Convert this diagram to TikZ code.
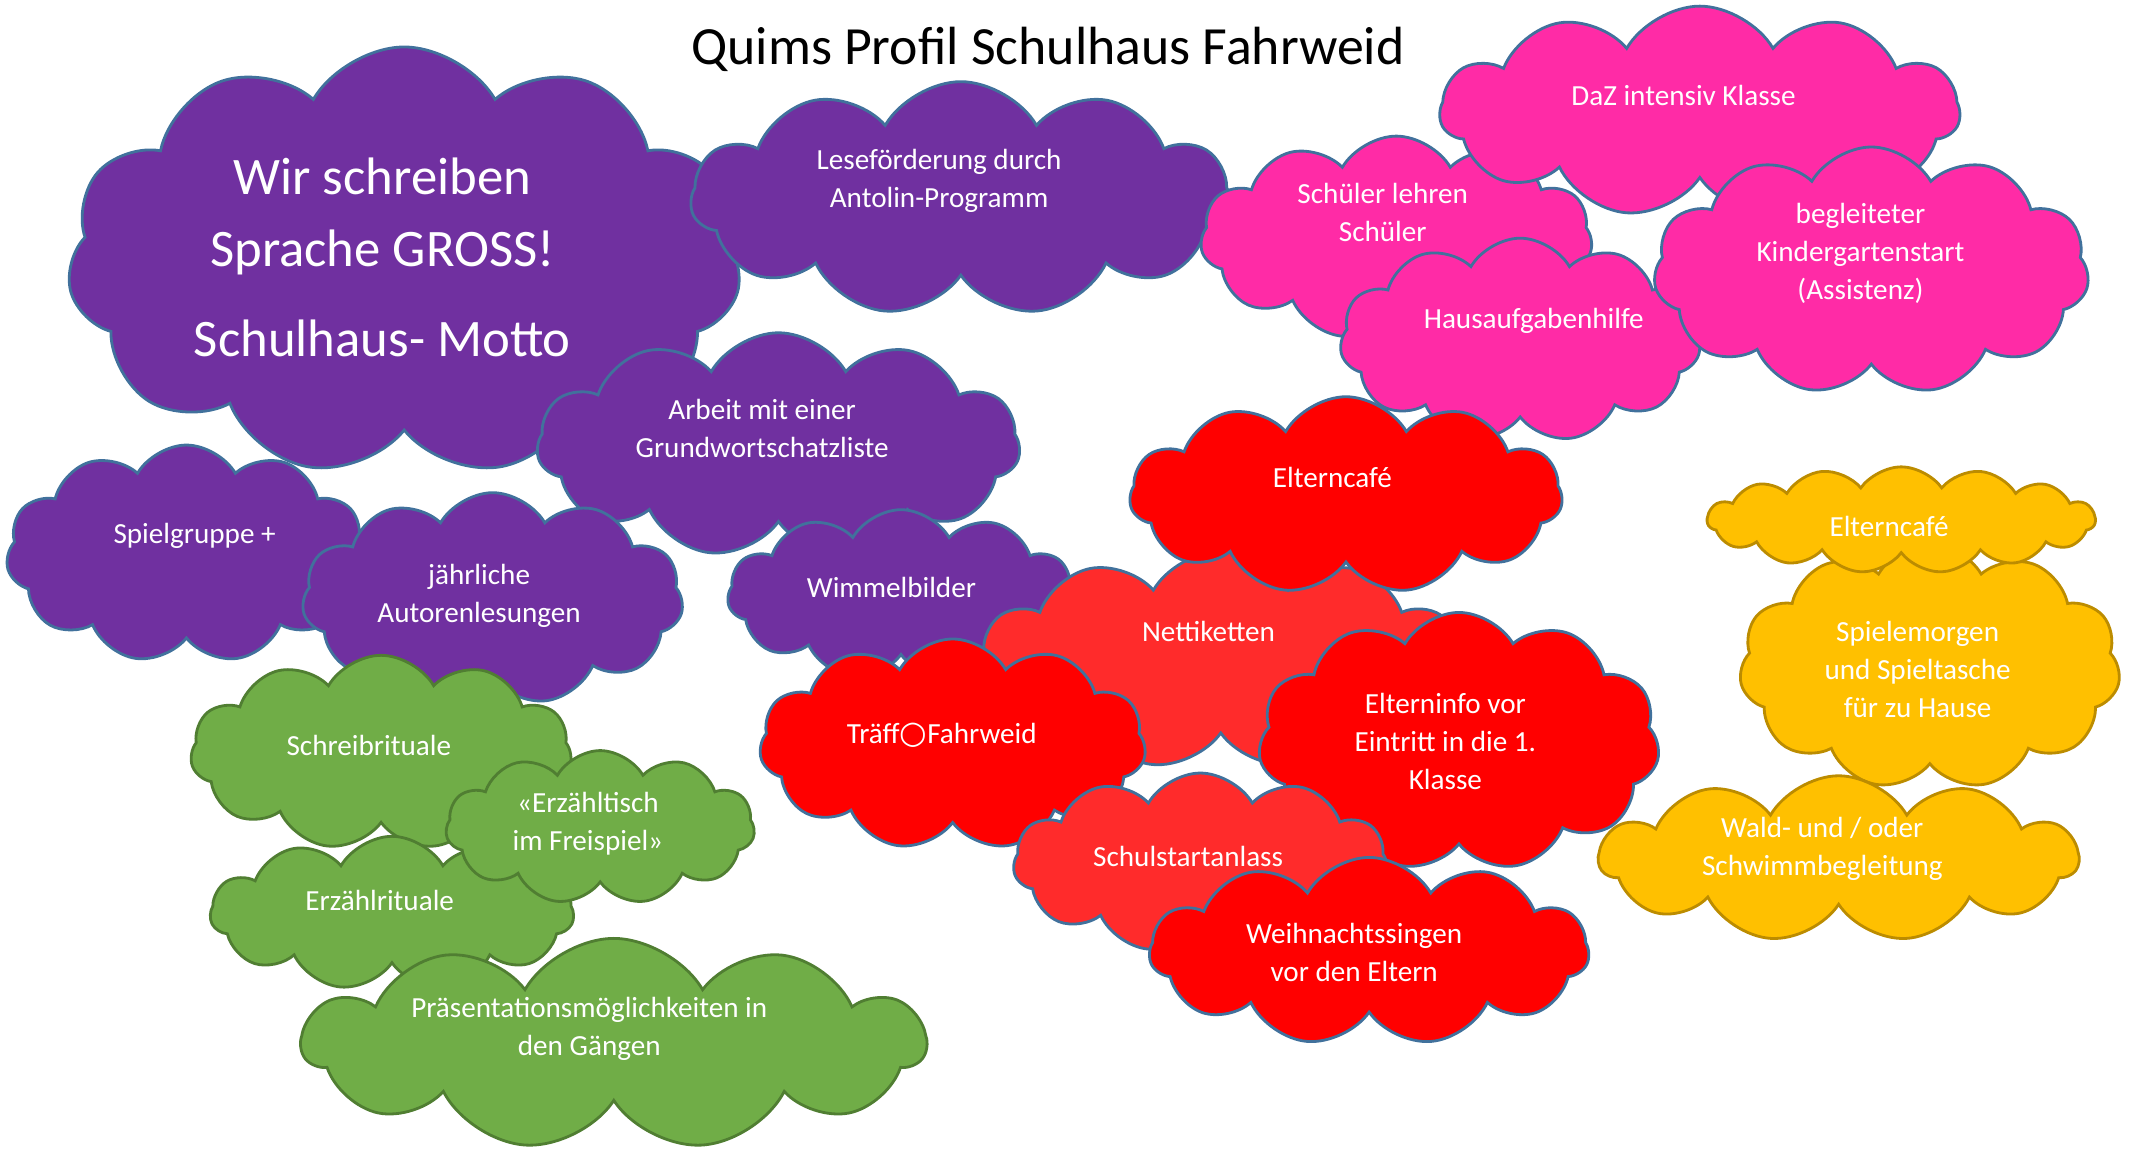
\documentclass[tikz,border=0pt]{standalone}
\usepackage{fontspec}
\setmainfont{Carlito}
\newfontfamily\symfont{DejaVu Sans}
\usetikzlibrary{shapes.symbols}
\definecolor{violett}{HTML}{7030A0}
\definecolor{magenta}{HTML}{FF2BA6}
\definecolor{rot}{HTML}{FF0000}
\definecolor{hellrot}{HTML}{FF2B2B}
\definecolor{gelb}{HTML}{FFC000}
\definecolor{gelbrand}{HTML}{BC8C00}
\definecolor{gruen}{HTML}{70AD47}
\definecolor{gruenrand}{HTML}{507E32}
\definecolor{rand}{HTML}{41719C}
\tikzstyle{cloudbase}=[shape=cloud, cloud puffs=11, cloud puff arc=120, cloud ignores aspect, draw=rand, line width=0.8pt, inner sep=0pt]
\tikzstyle{purple cloud}=[cloudbase, fill=violett]
\tikzstyle{pink cloud}=[cloudbase, fill=magenta]
\tikzstyle{red cloud}=[cloudbase, fill=rot]
\tikzstyle{light red cloud}=[cloudbase, fill=hellrot]
\tikzstyle{yellow cloud}=[cloudbase, fill=gelb, draw=gelbrand]
\tikzstyle{green cloud}=[cloudbase, fill=gruen, draw=gruenrand]
\tikzstyle{cloudtext}=[text=white, align=center, inner sep=0pt, font=\fontsize{8.3}{10.8}\selectfont]
\tikzset{wh/.style 2 args={minimum width=#1*0.1361mm, minimum height=#2*0.1361mm}}

\begin{document}
\begin{tikzpicture}[x=0.1361mm, y=-0.1361mm]
	\useasboundingbox (0,0) rectangle (1568,848);
	\node [font=\fontsize{15.3}{18}\selectfont] (title) at (770,36) {Quims Profil Schulhaus Fahrweid};
	% violett
	\node [style=purple cloud, wh={495}{315}] (0) at (297,192) {};
	\node [style=purple cloud, wh={397}{172}] (1) at (706,146) {};
	\node [style=purple cloud, wh={355}{165}] (2) at (572,327) {};
	\node [style=purple cloud, wh={265}{160}] (3) at (137,407) {};
	\node [style=purple cloud, wh={280}{156}] (4) at (362,440) {};
	\node [style=purple cloud, wh={255}{125}] (5) at (662,437) {};
	\node [style=cloudtext, font=\fontsize{15}{20.5}\selectfont] (t0) at (281,189) {Wir schreiben\\Sprache GROSS!\\[5pt]Schulhaus- Motto};
	\node [style=cloudtext] (t1) at (690,133) {Leseförderung durch\\Antolin-Programm};
	\node [style=cloudtext] (t2) at (560,315) {Arbeit mit einer\\Grundwortschatzliste};
	\node [style=cloudtext] (t3) at (143,394) {Spielgruppe +};
	\node [style=cloudtext] (t4) at (352,438) {jährliche\\Autorenlesungen};
	\node [style=cloudtext] (t5) at (655,432) {Wimmelbilder};
	% magenta
	\node [style=pink cloud, wh={288}{150}] (6) at (1026,175) {};
	\node [style=pink cloud, wh={382}{155}] (7) at (1249,82) {};
	\node [style=pink cloud, wh={265}{150}] (8) at (1117,250) {};
	\node [style=pink cloud, wh={320}{182}] (9) at (1375,199) {};
	\node [style=cloudtext] (t6) at (1016,156) {Schüler lehren\\Schüler};
	\node [style=cloudtext] (t7) at (1237,70) {DaZ intensiv Klasse};
	\node [style=cloudtext] (t8) at (1127,236) {Hausaufgabenhilfe};
	\node [style=cloudtext] (t9) at (1367,186) {begleiteter\\Kindergartenstart\\(Assistenz)};
	% rot
	\node [style=light red cloud, wh={355}{160}] (11) at (897,485) {};
	\node [style=red cloud, wh={318}{145}] (10) at (989,364) {};
	\node [style=red cloud, wh={284}{155}] (12) at (700,547) {};
	\node [style=red cloud, wh={295}{190}] (13) at (1072,545) {};
	\node [style=light red cloud, wh={275}{132}] (14) at (882,634) {};
	\node [style=red cloud, wh={323}{138}] (15) at (1006,699) {};
	\node [style=cloudtext] (t10) at (979,351) {Elterncafé};
	\node [style=cloudtext] (t11) at (888,464) {Nettiketten};
	\node [style=cloudtext] (t12) at (692,540) {Träff{\symfont\fontsize{9}{10}\selectfont ○}Fahrweid};
	\node [style=cloudtext] (t13) at (1062,545) {Elterninfo vor\\Eintritt in die 1.\\Klasse};
	\node [style=cloudtext] (t14) at (873,629) {Schulstartanlass};
	\node [style=cloudtext] (t15) at (995,700) {Weihnachtssingen\\vor den Eltern};
	% gelb
	\node [style=yellow cloud, wh={280}{180}] (17) at (1418,490) {};
	\node [style=yellow cloud, cloud puffs=15, cloud puff arc=110, wh={285}{78}] (16) at (1397,382) {};
	\node [style=yellow cloud, wh={352}{122}] (18) at (1351,631) {};
	\node [style=cloudtext] (t16) at (1388,387) {Elterncafé};
	\node [style=cloudtext] (t17) at (1409,492) {Spielemorgen\\und Spieltasche\\für zu Hause};
	\node [style=cloudtext] (t18) at (1339,624) {Wald- und / oder\\Schwimmbegleitung};
	% gruen
	\node [style=green cloud, wh={280}{143}] (19) at (280,553) {};
	\node [style=green cloud, wh={267}{113}] (20) at (288,671) {};
	\node [style=green cloud, wh={227}{113}] (21) at (441,608) {};
	\node [style=green cloud, wh={458}{155}] (22) at (451,767) {};
	\node [style=cloudtext] (t19) at (271,548) {Schreibrituale};
	\node [style=cloudtext] (t20) at (279,662) {Erzählrituale};
	\node [style=cloudtext] (t21) at (432,605) {«Erzähltisch\\im Freispiel»};
	\node [style=cloudtext] (t22) at (433,756) {Präsentationsmöglichkeiten in\\den Gängen};
\end{tikzpicture}
\end{document}
